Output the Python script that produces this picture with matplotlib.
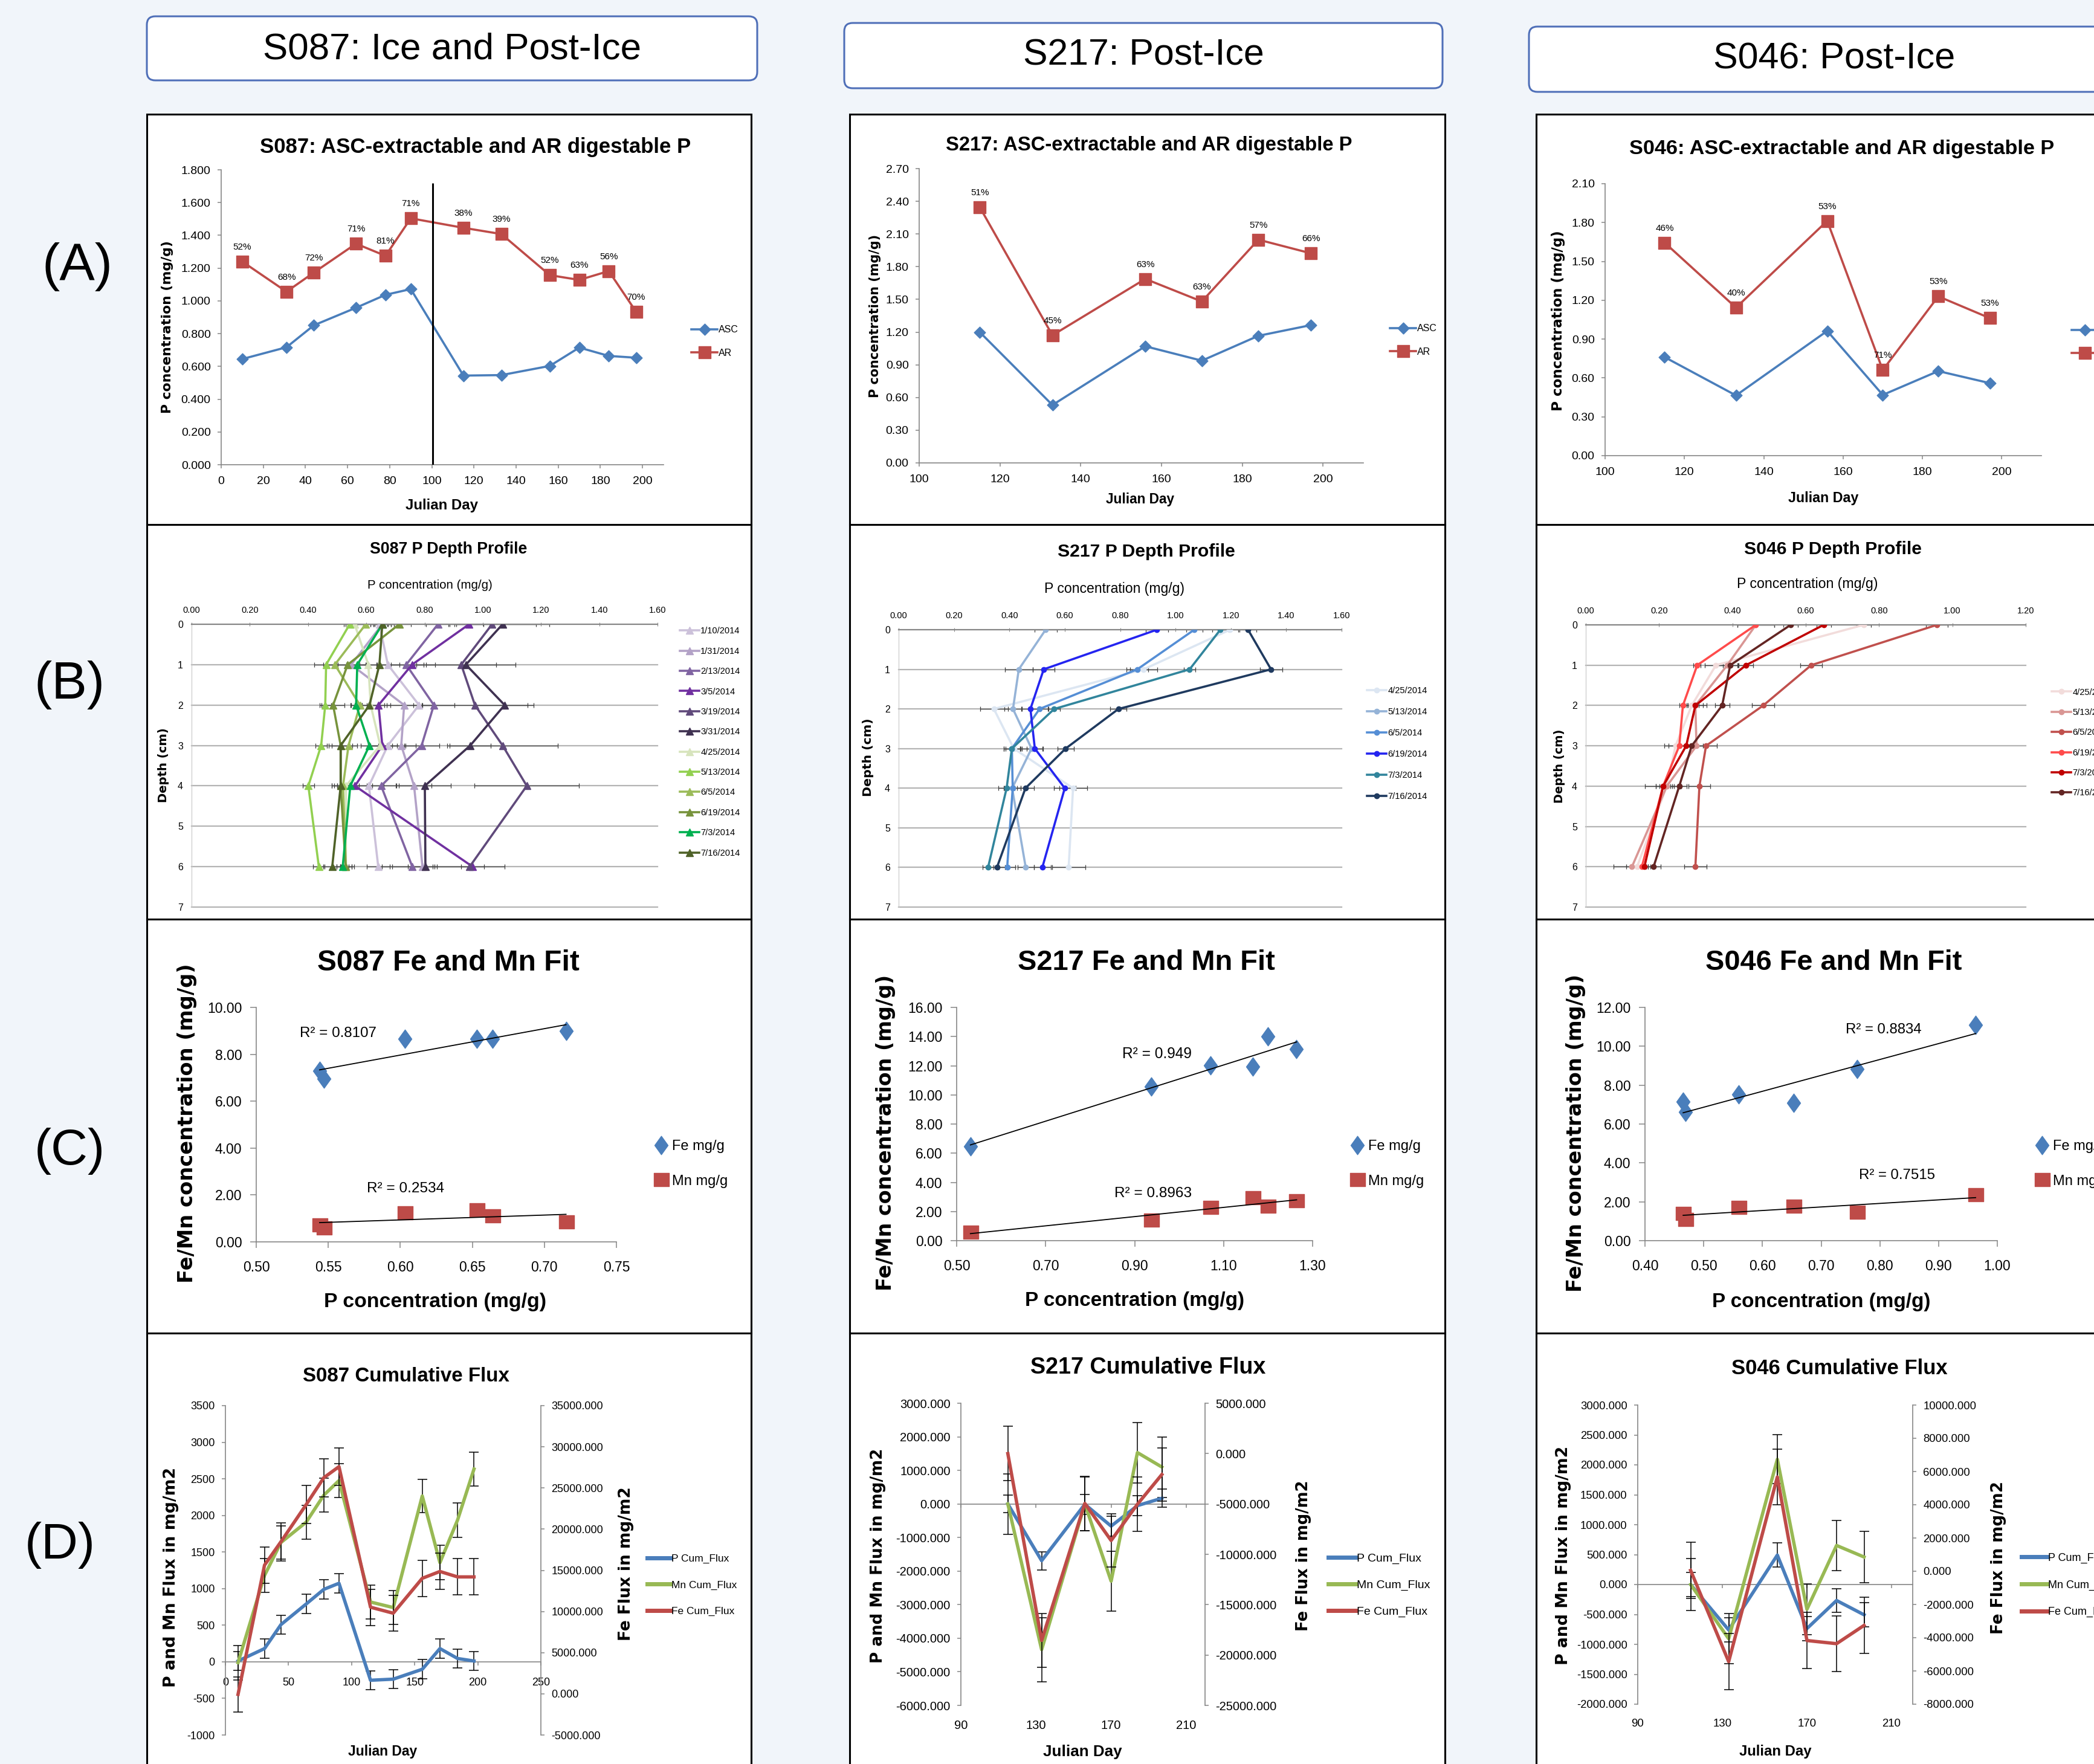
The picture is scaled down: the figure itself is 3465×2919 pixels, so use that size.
import numpy as np
import matplotlib
matplotlib.use("Agg")
import matplotlib.pyplot as plt
from matplotlib import font_manager
from matplotlib.patches import Rectangle, FancyBboxPatch
from matplotlib.lines import Line2D
from matplotlib.path import Path
from matplotlib.ticker import FormatStrFormatter

W, H = 3465, 2919

_names = {f.name for f in font_manager.fontManager.ttflist}
SANS = "Liberation Sans" if "Liberation Sans" in _names else "DejaVu Sans"
WIDE = "DejaVu Sans"
plt.rcParams["font.family"] = [SANS, "DejaVu Sans"]
plt.rcParams["axes.unicode_minus"] = False

BG = "#f1f5fa"
GRAY = "#868686"
BLUE = "#4a7ebb"
RED = "#be4b48"
GREEN = "#98b954"

# ---------------- row A: ASC-extractable vs AR digestable P ----------------
s087_days = [10, 31, 44, 64, 78, 90, 115, 133, 156, 170, 184, 197]
s087_asc = [0.645, 0.717, 0.851, 0.958, 1.037, 1.072, 0.544, 0.547, 0.603, 0.715, 0.664, 0.653]
s087_ar = [1.240, 1.056, 1.173, 1.349, 1.275, 1.504, 1.446, 1.408, 1.157, 1.128, 1.182, 0.933]
s087_pct = ["52%", "68%", "72%", "71%", "81%", "71%", "38%", "39%", "52%", "63%", "56%", "70%"]
ice_out_day = 100.5

post_days = [115, 133, 156, 170, 184, 197]
s217_asc = [1.200, 0.531, 1.070, 0.938, 1.166, 1.264]
s217_ar = [2.346, 1.171, 1.688, 1.481, 2.048, 1.923]
s217_pct = ["51%", "45%", "63%", "63%", "57%", "66%"]

s046_asc = [0.761, 0.465, 0.963, 0.469, 0.653, 0.560]
s046_ar = [1.645, 1.143, 1.813, 0.661, 1.230, 1.062]
s046_pct = ["46%", "40%", "53%", "71%", "53%", "53%"]

# ---------------- row B: P depth profiles ----------------
depths = [0, 1, 2, 3, 4, 6]

s087_dates = ["1/10/2014", "1/31/2014", "2/13/2014", "3/5/2014", "3/19/2014", "3/31/2014",
              "4/25/2014", "5/13/2014", "6/5/2014", "6/19/2014", "7/3/2014", "7/16/2014"]
s087_colors = ["#ccc1da", "#b3a2c7", "#8064a2", "#7030a0", "#604a7b", "#3f3151",
               "#d7e4bd", "#92d050", "#9bbb59", "#77933c", "#00b050", "#4f6228"]
s087_prof = [
    [0.645, 0.674, 0.781, 0.674, 0.609, 0.641],
    [0.655, 0.548, 0.730, 0.720, 0.764, 0.793],
    [0.846, 0.737, 0.832, 0.790, 0.651, 0.758],
    [0.953, 0.757, 0.642, 0.655, 0.561, 0.965],
    [1.032, 0.926, 0.973, 1.068, 1.151, 0.955],
    [1.068, 0.942, 1.075, 0.957, 0.801, 0.803],
    [0.560, 0.607, 0.615, 0.648, 0.530, 0.530],
    [0.543, 0.462, 0.459, 0.445, 0.401, 0.437],
    [0.598, 0.492, 0.578, 0.539, 0.520, 0.530],
    [0.713, 0.536, 0.486, 0.512, 0.512, 0.529],
    [0.655, 0.569, 0.565, 0.611, 0.545, 0.519],
    [0.655, 0.645, 0.611, 0.512, 0.512, 0.483],
]
s087_perr = [
    [0.03, 0.04, 0.05, 0.06, 0.05, 0.04],
    [0.04, 0.05, 0.06, 0.05, 0.06, 0.05],
    [0.04, 0.06, 0.07, 0.06, 0.05, 0.07],
    [0.05, 0.08, 0.04, 0.05, 0.06, 0.04],
    [0.15, 0.12, 0.18, 0.19, 0.18, 0.12],
    [0.16, 0.17, 0.10, 0.07, 0.09, 0.15],
    [0.03, 0.03, 0.03, 0.04, 0.03, 0.02],
    [0.02, 0.04, 0.02, 0.02, 0.02, 0.02],
    [0.03, 0.04, 0.03, 0.03, 0.03, 0.02],
    [0.04, 0.07, 0.04, 0.03, 0.03, 0.03],
    [0.03, 0.03, 0.02, 0.03, 0.03, 0.02],
    [0.03, 0.04, 0.05, 0.04, 0.03, 0.03],
]

post_dates = ["4/25/2014", "5/13/2014", "6/5/2014", "6/19/2014", "7/3/2014", "7/16/2014"]
s217_colors = ["#dce6f2", "#95b3d7", "#558ed5", "#2424f0", "#31859c", "#1f3a5f"]
s217_prof = [
    [1.197, 0.885, 0.344, 0.416, 0.630, 0.614],
    [0.531, 0.434, 0.413, 0.480, 0.410, 0.459],
    [1.068, 0.862, 0.509, 0.409, 0.412, 0.392],
    [0.933, 0.524, 0.476, 0.492, 0.600, 0.519],
    [1.162, 1.051, 0.562, 0.409, 0.390, 0.323],
    [1.262, 1.345, 0.794, 0.603, 0.458, 0.355],
]
s217_perr = [
    [0.03, 0.05, 0.05, 0.03, 0.05, 0.06],
    [0.04, 0.05, 0.03, 0.04, 0.03, 0.03],
    [0.03, 0.04, 0.03, 0.03, 0.03, 0.03],
    [0.04, 0.04, 0.03, 0.03, 0.04, 0.03],
    [0.03, 0.02, 0.02, 0.03, 0.03, 0.02],
    [0.03, 0.04, 0.03, 0.03, 0.03, 0.03],
]

s046_colors = ["#f2dcdb", "#d99694", "#c0504d", "#ff4b4b", "#c00000", "#632523"]
s046_prof = [
    [0.758, 0.355, 0.289, 0.245, 0.221, 0.140],
    [0.464, 0.386, 0.299, 0.302, 0.221, 0.126],
    [0.958, 0.615, 0.484, 0.328, 0.310, 0.299],
    [0.464, 0.304, 0.265, 0.255, 0.211, 0.153],
    [0.649, 0.437, 0.299, 0.274, 0.211, 0.160],
    [0.559, 0.394, 0.372, 0.289, 0.255, 0.185],
]
s046_perr = [
    [0.02, 0.03, 0.02, 0.03, 0.02, 0.03],
    [0.05, 0.03, 0.03, 0.03, 0.03, 0.05],
    [0.03, 0.03, 0.03, 0.03, 0.03, 0.03],
    [0.05, 0.01, 0.01, 0.03, 0.05, 0.01],
    [0.02, 0.02, 0.02, 0.02, 0.02, 0.01],
    [0.02, 0.02, 0.02, 0.03, 0.02, 0.02],
]

# ---------------- row C: Fe and Mn against P ----------------
s087_p = [0.544, 0.547, 0.603, 0.653, 0.664, 0.715]
s087_fe = [7.29, 6.95, 8.65, 8.67, 8.67, 8.99]
s087_mn = [0.72, 0.60, 1.25, 1.36, 1.10, 0.85]
s087_r2 = ["R² = 0.8107", "R² = 0.2534"]

s217_p = [0.531, 0.938, 1.070, 1.166, 1.200, 1.264]
s217_fe = [6.48, 10.55, 12.04, 11.95, 13.99, 13.14]
s217_mn = [0.58, 1.40, 2.28, 2.96, 2.37, 2.74]
s217_r2 = ["R² = 0.949", "R² = 0.8963"]

s046_p = [0.465, 0.469, 0.560, 0.653, 0.761, 0.963]
s046_fe = [7.14, 6.62, 7.53, 7.09, 8.83, 11.11]
s046_mn = [1.40, 1.10, 1.71, 1.78, 1.46, 2.35]
s046_r2 = ["R² = 0.8834", "R² = 0.7515"]

# ---------------- row D: cumulative flux ----------------
s087_pflux = [11, 181, 508, 790, 990, 1073, -252, -237, -102, 181, 45, 11]
s087_mnflux = [-11, 1180, 1630, 1908, 2277, 2476, 817, 741, 2266, 1355, 1938, 2634]
s087_feflux = [-70, 15630, 18470, 22980, 26250, 27590, 10520, 9790, 14030, 14860, 14200, 14200]
s087_pflux_err = [130, 130, 130, 130, 130, 130, 130, 130, 130, 130, 130, 130]
s087_mnflux_err = [235, 235, 230, 230, 230, 230, 230, 230, 230, 235, 235, 230]
s087_feflux_err = [2140, 2200, 2300, 2300, 2300, 2300, 2200, 2200, 2200, 2200, 2200, 2200]

s217_pflux = [0, -1690, -10, -660, -50, 170]
s217_mnflux = [0, -4340, 0, -2300, 1530, 1100]
s217_feflux = [0, -18550, -4950, -8630, -5030, -2080]
s217_pflux_err = [265, 270, 300, 300, 290, 270]
s217_mnflux_err = [900, 950, 800, 890, 900, 900]
s217_feflux_err = [2700, 2650, 2700, 2650, 2700, 2650]

s046_pflux = [0, -759, 492, -736, -267, -506]
s046_mnflux = [0, -906, 2093, -414, 653, 460]
s046_feflux = [50, -5440, 5670, -4170, -4360, -3260]
s046_pflux_err = [200, 200, 200, 200, 200, 200]
s046_mnflux_err = [430, 420, 410, 420, 420, 430]
s046_feflux_err = [1680, 1680, 1680, 1680, 1680, 1680]

headers = ["S087: Ice and Post-Ice", "S217: Post-Ice", "S046: Post-Ice"]
row_tags = ["(A)", "(B)", "(C)", "(D)"]

DIAMOND = Path([(0, 1), (1, 0), (0, -1), (-1, 0), (0, 1)], closed=True)
TALL_DIAMOND = Path([(0, 1), (0.72, 0), (0, -1), (-0.72, 0), (0, 1)], closed=True)
SQUARE = Path([(-1, -1), (1, -1), (1, 1), (-1, 1), (-1, -1)], closed=True)
FLAT_SQUARE = Path([(-1, -0.88), (1, -0.88), (1, 0.88), (-1, 0.88), (-1, -0.88)], closed=True)

fig = plt.figure(figsize=(W / 100, H / 100), dpi=100, facecolor=BG)
bg = fig.add_axes([0, 0, 1, 1], zorder=0)
bg.set_xlim(0, W)
bg.set_ylim(H, 0)
bg.axis("off")
renderer = fig.canvas.get_renderer()


def add_ax(x0, x1, y0, y1):
    ax = fig.add_axes([x0 / W, 1 - y1 / H, (x1 - x0) / W, (y1 - y0) / H], zorder=2)
    ax.set_facecolor("none")
    return ax


def put(x, y, s, width=None, size=12, rot=0, **kw):
    kw.setdefault("ha", "center")
    kw.setdefault("va", "center")
    t = bg.text(x, y, s, rotation=rot, fontsize=size, **kw)
    if width:
        bb = t.get_window_extent(renderer)
        t.set_fontsize(size * width / (bb.height if rot else bb.width))
    return t


def legend_at(ax, handles, labels, x, y, size, **kw):
    ax.legend(handles, labels, loc="center left", bbox_to_anchor=(x / W, 1 - y / H),
              bbox_transform=fig.transFigure, frameon=False, fontsize=size,
              borderpad=0, borderaxespad=0, **kw)


def frame(ax, fs, length=4.5, pad=8):
    for s in ("top", "right"):
        ax.spines[s].set_visible(False)
    for s in ("left", "bottom"):
        ax.spines[s].set_color(GRAY)
        ax.spines[s].set_linewidth(1.2)
    ax.tick_params(colors=GRAY, labelcolor="black", labelsize=fs, length=length,
                   width=1.1, direction="out", pad=pad)


# ---------- panel frames, headers, row tags ----------
col_x = [(243, 1243), (1406, 2391), (2542, 3540)]
row_y = [(189, 868), (868, 1521), (1521, 2206), (2206, 2960)]
for x0, x1 in col_x:
    for y0, y1 in row_y:
        bg.add_patch(Rectangle((x0, y0), x1 - x0, y1 - y0, facecolor="white",
                               edgecolor="black", lw=2.2, zorder=1))

head_boxes = [(243, 1253, 27, 133), (1397, 2387, 38, 146), (2530, 3560, 44, 152)]
head_text = [(748, 82, 625), (1892, 92, 398), (3035, 98, 400)]
for s, (x0, x1, y0, y1), (tx, ty, tw) in zip(headers, head_boxes, head_text):
    bg.add_patch(FancyBboxPatch((x0, y0), x1 - x0, y1 - y0,
                                boxstyle="round,pad=0,rounding_size=14",
                                facecolor="white", edgecolor="#4f6fb8", lw=2.2, zorder=1))
    put(tx, ty, s, width=tw, size=40, zorder=2)

for s, (x, y) in zip(row_tags, [(128, 442), (115, 1134), (115, 1905), (99, 2557)]):
    put(x, y, s, width=117, size=60)


# ---------- row A ----------
def panel_a(box, xlim, xticks, ylim, yticks, yfmt, days, asc, ar, pct):
    ax = add_ax(*box)
    ax.plot(days, asc, color=BLUE, lw=2.6, marker=DIAMOND, ms=13.5, label="ASC", zorder=3)
    ax.plot(days, ar, color=RED, lw=2.6, marker=SQUARE, ms=15, label="AR", zorder=3)
    for d, v, s in zip(days, ar, pct):
        ax.annotate(s, (d, v), xytext=(0, 24), textcoords="offset pixels",
                    ha="center", va="center", fontsize=11)
    ax.set_xlim(*xlim)
    ax.set_ylim(*ylim)
    ax.set_xticks(xticks)
    ax.set_yticks(yticks)
    ax.yaxis.set_major_formatter(FormatStrFormatter(yfmt))
    frame(ax, 14)
    ax.tick_params(axis="x", pad=9)
    return ax


a1 = panel_a((366, 1098, 281, 769), (0, 210), np.arange(0, 201, 20), (0, 1.8),
             np.arange(0, 1.81, 0.2), "%.3f", s087_days, s087_asc, s087_ar, s087_pct)
a1.vlines(ice_out_day, 0, 1.72, color="black", lw=2.2, zorder=4)
a2 = panel_a((1521, 2256, 279, 766), (100, 210), np.arange(100, 201, 20), (0, 2.7),
             np.arange(0, 2.71, 0.3), "%.2f", post_days, s217_asc, s217_ar, s217_pct)
a3 = panel_a((2656, 3378, 304, 754), (100, 210), np.arange(100, 201, 20), (0, 2.1),
             np.arange(0, 2.11, 0.3), "%.2f", post_days, s046_asc, s046_ar, s046_pct)

a_titles = ["S087: ASC-extractable and AR digestable P", "S217: ASC-extractable and AR digestable P",
            "S046: ASC-extractable and AR digestable P"]
for ax, t, (tx, ty, tw), (yx, yy, yl), (xx, xy, xw), (lx, ly) in zip(
        (a1, a2, a3), a_titles,
        [(787, 244, 714), (1901, 240, 674), (3048, 246, 704)],
        [(277, 541, 286), (1448, 523, 271), (2578, 531, 301)],
        [(731, 836, 120), (1887, 827, 113), (3017, 824, 116)],
        [(1144, 565), (2300, 563), (3428, 566)]):
    put(tx, ty, t, width=tw, size=25, weight="bold")
    put(yx, yy, "P concentration (mg/g)", width=yl, size=14, rot=90, family=WIDE, weight="bold")
    put(xx, xy, "Julian Day", width=xw, size=16, weight="bold")
    h = [Line2D([], [], color=BLUE, lw=2.6, marker=DIAMOND, ms=13.5),
         Line2D([], [], color=RED, lw=2.6, marker=SQUARE, ms=15)]
    legend_at(ax, h, ["ASC", "AR"], lx, ly, 11.5, handlelength=2.7, handletextpad=0.1,
              labelspacing=1.45)


# ---------- row B ----------
def panel_b(box, xmax, xticks, dates, prof, errs, colors, marker, ms, lx, ly, lsp):
    ax = add_ax(*box)
    for d in range(1, 8):
        ax.axhline(d, color="#b4b4b4", lw=1.6, zorder=1, clip_on=False)
    for vals, err, c in zip(prof, errs, colors):
        ax.errorbar(vals, depths, xerr=err, fmt="none", ecolor="#404040", elinewidth=0.9,
                    capsize=3, capthick=0.9, zorder=2)
        ax.plot(vals, depths, color=c, lw=2.6, marker=marker, ms=ms, zorder=3)
    ax.set_xlim(0, xmax)
    ax.set_ylim(7, 0)
    ax.set_xticks(xticks)
    ax.set_yticks(range(8))
    ax.xaxis.set_major_formatter(FormatStrFormatter("%.2f"))
    ax.xaxis.tick_top()
    for s in ("right", "bottom"):
        ax.spines[s].set_visible(False)
    ax.spines["top"].set_color(GRAY)
    ax.spines["top"].set_linewidth(1.6)
    ax.spines["left"].set_color("#c8c8c8")
    ax.tick_params(axis="x", colors=GRAY, labelcolor="black", labelsize=10.5, length=5,
                   direction="inout", pad=9)
    ax.tick_params(axis="y", length=0, labelsize=11.5, pad=10)
    h = [Line2D([], [], color=c, lw=2.6, marker=marker, ms=ms) for c in colors]
    legend_at(ax, h, dates, lx, ly, 10.5, handlelength=2.2, handletextpad=0.15, labelspacing=lsp)
    return ax


panel_b((317, 1088, 1033, 1501), 1.6, np.arange(0, 1.61, 0.2), s087_dates, s087_prof,
        s087_perr, s087_colors, "^", 9, 1125, 1228, 1.33)
panel_b((1487, 2220, 1042, 1501), 1.6, np.arange(0, 1.61, 0.2), post_dates, s217_prof,
        s217_perr, s217_colors, "o", 6, 2262, 1231, 1.44)
panel_b((2624, 3352, 1034, 1501), 1.2, np.arange(0, 1.21, 0.2), post_dates, s046_prof,
        s046_perr, s046_colors, "o", 6, 3395, 1229, 1.33)

for t, (tx, ty, tw), (ax_x, ax_y, aw), (yx, yy, yl) in zip(
        ["S087 P Depth Profile", "S217 P Depth Profile", "S046 P Depth Profile"],
        [(742, 909, 261), (1897, 913, 294), (3033, 909, 294)],
        [(711, 969, 207), (1844, 974, 232), (2991, 967, 233)],
        [(270, 1266, 124), (1437, 1253, 129), (2581, 1268, 122)]):
    put(tx, ty, t, width=tw, size=20, weight="bold")
    put(ax_x, ax_y, "P concentration (mg/g)", width=aw, size=13)
    put(yx, yy, "Depth (cm)", width=yl, size=13, rot=90, family=WIDE, weight="bold")


# ---------- row C ----------
def panel_c(box, xlim, xticks, ylim, yticks, p, fe, mn, lx):
    ax = add_ax(*box)
    ax.plot(p, fe, ls="none", marker=TALL_DIAMOND, ms=22, color=BLUE, zorder=3)
    ax.plot(p, mn, ls="none", marker=FLAT_SQUARE, ms=18, color=RED, zorder=3)
    xs = np.array([min(p), max(p)])
    for y in (fe, mn):
        k, b = np.polyfit(p, y, 1)
        ax.plot(xs, k * xs + b, color="black", lw=1.3, zorder=4)
    ax.set_xlim(*xlim)
    ax.set_ylim(*ylim)
    ax.set_xticks(xticks)
    ax.set_yticks(yticks)
    ax.xaxis.set_major_formatter(FormatStrFormatter("%.2f"))
    ax.yaxis.set_major_formatter(FormatStrFormatter("%.2f"))
    frame(ax, 16.5, length=7, pad=10)
    ax.tick_params(axis="x", pad=15)
    h = [Line2D([], [], ls="none", marker=TALL_DIAMOND, ms=22, color=BLUE),
         Line2D([], [], ls="none", marker=FLAT_SQUARE, ms=18, color=RED)]
    legend_at(ax, h, ["Fe mg/g", "Mn mg/g"], lx, 1926, 17, handlelength=1.0,
              handletextpad=0.25, labelspacing=1.5)
    return ax


panel_c((424, 1020, 1667, 2055), (0.5, 0.75), np.arange(0.5, 0.751, 0.05), (0, 10),
        np.arange(0, 10.1, 2), s087_p, s087_fe, s087_mn, 1082)
panel_c((1583, 2172, 1667, 2053), (0.5, 1.3), np.arange(0.5, 1.31, 0.2), (0, 16),
        np.arange(0, 16.1, 2), s217_p, s217_fe, s217_mn, 2234)
panel_c((2722, 3305, 1667, 2053), (0.4, 1.0), np.arange(0.4, 1.01, 0.1), (0, 12),
        np.arange(0, 12.1, 2), s046_p, s046_fe, s046_mn, 3367)

for t, (tx, ty, tw), (yx, yy, yl), (xx, xy, xw), r2, r2pos in zip(
        ["S087 Fe and Mn Fit", "S217 Fe and Mn Fit", "S046 Fe and Mn Fit"],
        [(742, 1593, 434), (1897, 1593, 426), (3034, 1593, 425)],
        [(309, 1859, 528), (1465, 1874, 524), (2608, 1875, 526)],
        [(720, 2154, 368), (1877, 2152, 363), (3014, 2154, 361)],
        [s087_r2, s217_r2, s046_r2],
        [[(560, 1710, 127), (671, 1967, 128)], [(1914, 1744, 115), (1908, 1975, 128)],
         [(3117, 1704, 126), (3139, 1945, 126)]]):
    put(tx, ty, t, width=tw, size=32, weight="bold")
    put(yx, yy, "Fe/Mn concentration (mg/g)", width=yl, size=20, rot=90, family=WIDE, weight="bold")
    put(xx, xy, "P concentration (mg/g)", width=xw, size=22, weight="bold")
    for s, (rx, ry, rw) in zip(r2, r2pos):
        put(rx, ry, s, width=rw, size=16)


# ---------- row D ----------
def panel_d(box, xlim, xticks, ylim, yticks, yfmt, ylim2, yticks2, days, p, mn, fe,
            pe, me, fee, on_zero, fs, xfs, lx, lsize, lsp, hlen):
    ax = add_ax(*box)
    ax2 = ax.twinx()
    ax2.set_facecolor("none")
    eb = dict(fmt="none", ecolor="black", elinewidth=1.1, capsize=5.5, capthick=1.1)
    ax.errorbar(days, p, yerr=pe, zorder=3, **eb)
    ax.plot(days, p, color=BLUE, lw=4, zorder=4)
    ax.errorbar(days, mn, yerr=me, zorder=3, **eb)
    ax.plot(days, mn, color=GREEN, lw=4, zorder=4)
    ax2.errorbar(days, fe, yerr=fee, zorder=3, **eb)
    ax2.plot(days, fe, color=RED, lw=4, zorder=4)
    ax.set_xlim(*xlim)
    ax.set_ylim(*ylim)
    ax2.set_ylim(*ylim2)
    ax.set_xticks(xticks)
    ax.set_yticks(yticks)
    ax2.set_yticks(yticks2)
    ax.yaxis.set_major_formatter(FormatStrFormatter(yfmt))
    ax2.yaxis.set_major_formatter(FormatStrFormatter("%.3f"))
    for s in ("top", "right"):
        ax.spines[s].set_visible(False)
    for s in ("top", "left", "bottom"):
        ax2.spines[s].set_visible(False)
    for sp in (ax.spines["left"], ax.spines["bottom"], ax2.spines["right"]):
        sp.set_color(GRAY)
        sp.set_linewidth(1.2)
    ax.spines["bottom"].set_position(("data", 0))
    for a in (ax, ax2):
        a.tick_params(colors=GRAY, labelcolor="black", labelsize=fs, length=4.5,
                      width=1.1, direction="out", pad=8)
    if on_zero:
        ax.tick_params(axis="x", labelsize=xfs, pad=14)
    else:
        ax.tick_params(axis="x", labelbottom=False)
        sec = ax.secondary_xaxis("bottom")
        sec.set_xticks(xticks)
        sec.spines["bottom"].set_visible(False)
        sec.tick_params(length=0, labelsize=xfs, pad=17)
    h = [Line2D([], [], color=c, lw=5) for c in (BLUE, GREEN, RED)]
    legend_at(ax2, h, ["P Cum_Flux", "Mn Cum_Flux", "Fe Cum_Flux"], lx, 2623, lsize,
              handlelength=hlen, handletextpad=0.1, labelspacing=lsp)
    return ax


panel_d((373, 895, 2326, 2871), (0, 250), np.arange(0, 251, 50), (-1000, 3500),
        np.arange(-1000, 3501, 500), "%d", (-5000, 35000), np.arange(-5000, 35001, 5000),
        s087_days, s087_pflux, s087_mnflux, s087_feflux,
        s087_pflux_err, s087_mnflux_err, s087_feflux_err, True, 13, 13, 1071, 12.5, 1.62, 2.2)
panel_d((1590, 1994, 2322, 2822), (90, 220), np.arange(90, 211, 40), (-6000, 3000),
        np.arange(-6000, 3001, 1000), "%.3f", (-25000, 5000), np.arange(-25000, 5001, 5000),
        post_days, s217_pflux, s217_mnflux, s217_feflux,
        s217_pflux_err, s217_mnflux_err, s217_feflux_err, False, 14.5, 14.5, 2198, 14, 1.36, 2.3)
panel_d((2710, 3165, 2325, 2820), (90, 220), np.arange(90, 211, 40), (-2000, 3000),
        np.arange(-2000, 3001, 500), "%.3f", (-8000, 10000), np.arange(-8000, 10001, 2000),
        post_days, s046_pflux, s046_mnflux, s046_feflux,
        s046_pflux_err, s046_mnflux_err, s046_feflux_err, False, 13.3, 13.4, 3345, 13, 1.53, 2.35)

for t, (tx, ty, tw), (yx, yy, yl), (rx, ry, rl), (xx, xy, xw) in zip(
        ["S087 Cumulative Flux", "S217 Cumulative Flux", "S046 Cumulative Flux"],
        [(672, 2278, 344), (1900, 2263, 392), (3044, 2264, 359)],
        [(283, 2610, 364), (1453, 2574, 356), (2587, 2574, 362)],
        [(1036, 2588, 255), (2157, 2574, 250), (3307, 2578, 253)],
        [(633, 2899, 114), (1791, 2899, 130), (2938, 2899, 119)]):
    put(tx, ty, t, width=tw, size=24, weight="bold")
    put(yx, yy, "P and Mn Flux in mg/m2", width=yl, size=16, rot=90, family=WIDE, weight="bold")
    put(rx, ry, "Fe Flux in mg/m2", width=rl, size=16, rot=90, family=WIDE, weight="bold")
    put(xx, xy, "Julian Day", width=xw, size=16, weight="bold")

fig.savefig("out.png", dpi=100, facecolor=fig.get_facecolor())
